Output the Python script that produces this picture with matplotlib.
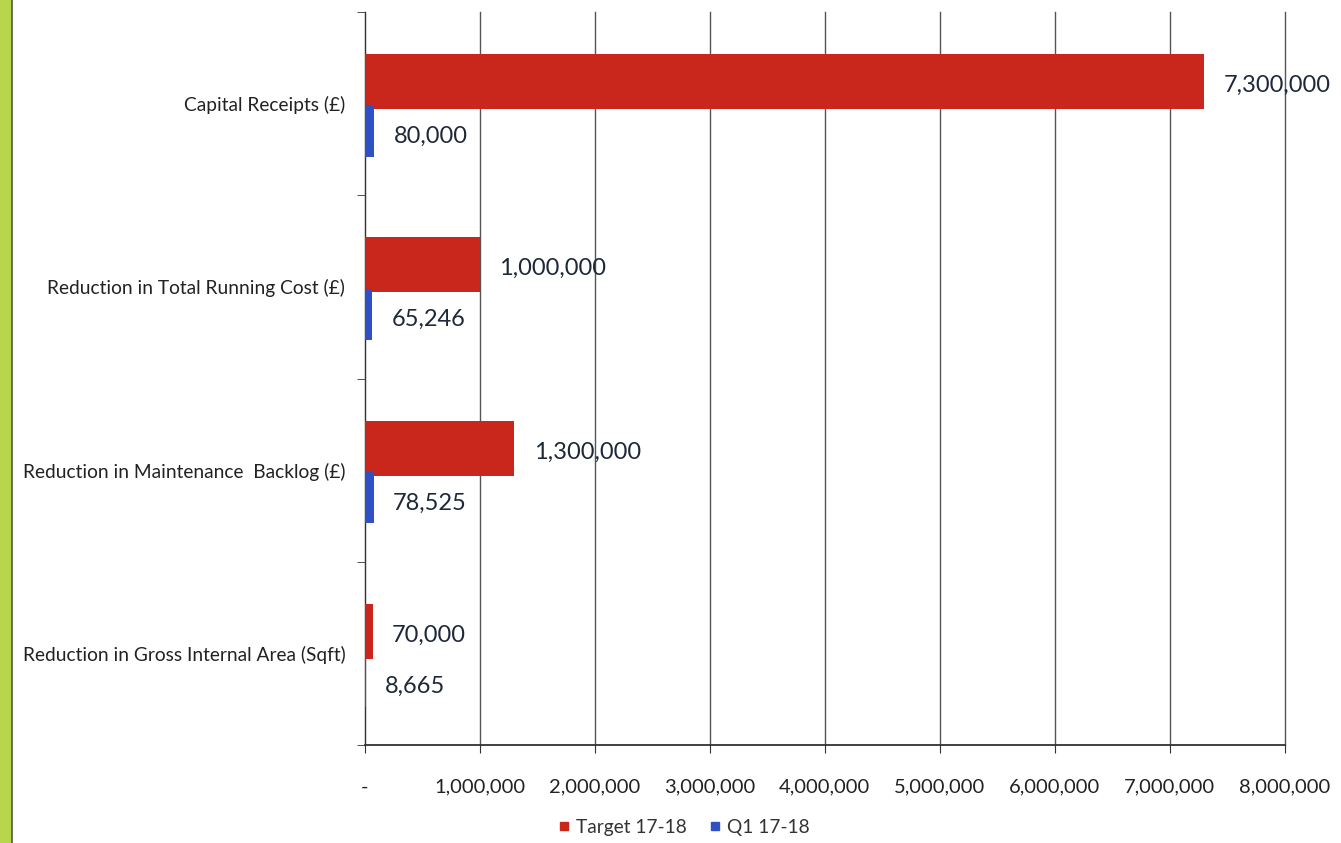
import numpy as np
import matplotlib
matplotlib.use('Agg')
import matplotlib.pyplot as plt
from matplotlib.lines import Line2D
from matplotlib.patches import Rectangle
from matplotlib.ticker import FuncFormatter

plt.rcParams['font.family'] = ['Lato', 'DejaVu Sans']

# data (bottom to top on the chart)
categories = ['Reduction in Gross Internal Area (Sqft)',
              'Reduction in Maintenance  Backlog (£)',
              'Reduction in Total Running Cost (£)',
              'Capital Receipts (£)']
target = [70000, 1300000, 1000000, 7300000]
q1 = [8665, 78525, 65246, 80000]
series_names = ['Target 17-18', 'Q1 17-18']
xticks = np.arange(0, 8000001, 1000000)

red = '#C9261C'
blue = '#2F4FC4'
txt = '#1E2838'

fig = plt.figure(figsize=(13.41, 8.43), dpi=100)
ax = fig.add_axes([0.272, 0.116, 0.686, 0.870])

# green strip of the scanned page
fig.patches.append(Rectangle((0, 0), 0.009, 1, transform=fig.transFigure,
                             facecolor='#B8D54C', edgecolor='none', zorder=0))
fig.add_artist(Line2D([0.009, 0.009], [0, 1], transform=fig.transFigure,
                      color='#4A5A40', lw=1.2))

y = np.arange(len(categories))
ax.barh(y + 0.12, target, height=0.30, color=red, zorder=3)
ax.barh(y - 0.15, q1, height=0.28, color=blue, zorder=3)

for yi, v in zip(y, target):
    ax.annotate(f'{v:,}', (v, yi + 0.10), xytext=(14, 0), textcoords='offset points',
                va='center', ha='left', fontsize=17, color=txt)
for yi, v in zip(y, q1):
    ax.annotate(f'{v:,}', (v, yi - 0.18), xytext=(14, 0), textcoords='offset points',
                va='center', ha='left', fontsize=17, color=txt)

ax.set_xlim(0, 8000000)
ax.set_ylim(-0.5, 3.5)
ax.set_xticks(xticks)
ax.xaxis.set_major_formatter(FuncFormatter(lambda v, p: '-' if v == 0 else f'{int(v):,}'))
ax.set_yticks(y)
ax.set_yticklabels(categories)
ax.set_yticks(np.arange(-0.5, 3.6, 1), minor=True)
ax.tick_params(axis='y', which='major', length=0, pad=14, labelsize=13.8, labelcolor='#222222')
ax.tick_params(axis='y', which='minor', length=6, color='#333333')
ax.tick_params(axis='x', length=6, pad=18, labelsize=14.5, labelcolor='#222222', color='#333333')

ax.grid(axis='x', color='#555555', lw=1.0, zorder=0)
for gl in ax.get_xgridlines():
    gl.set_clip_on(False)
ax.set_axisbelow(True)
for s in ['top', 'right']:
    ax.spines[s].set_visible(False)
ax.spines['left'].set_color('#333333')
ax.spines['bottom'].set_color('#333333')
ax.spines['bottom'].set_linewidth(1.3)

handles = [Line2D([], [], marker='s', ls='', color=red, markersize=6),
           Line2D([], [], marker='s', ls='', color=blue, markersize=6)]
fig.legend(handles, series_names, loc='lower center', bbox_to_anchor=(0.51, -0.012),
           ncol=2, frameon=False, fontsize=13.8, handlelength=0.6, handletextpad=0.3,
           columnspacing=1.2, labelcolor='#333333')

plt.savefig('out.png')
